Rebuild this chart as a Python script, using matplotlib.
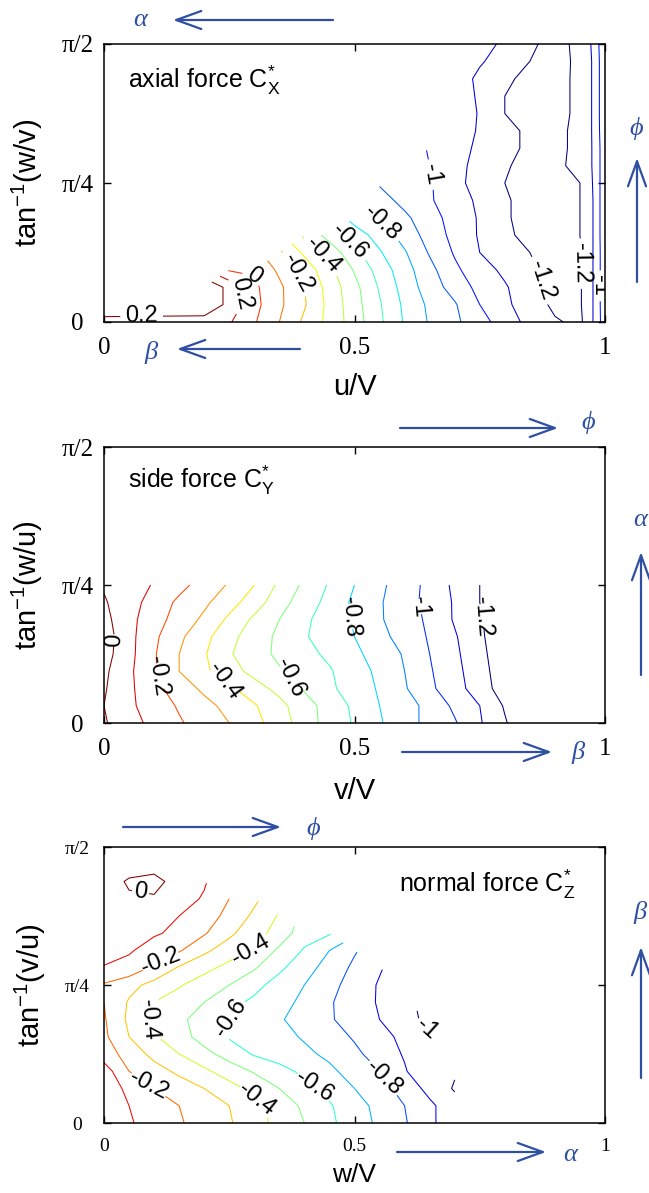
import numpy as np
import matplotlib
matplotlib.use('Agg')
import matplotlib.pyplot as plt
from matplotlib.patches import FancyArrowPatch

n = None

# axial force C_X*, x = u/V, rows = fraction of pi/2, values in hundredths
cx_u = [0.0, 0.2, 0.25, 0.3, 0.35, 0.4, 0.45, 0.5, 0.55, 0.6, 0.65, 0.7, 0.75,
        0.8, 0.85, 0.9, 0.95, 0.97, 0.985, 1.0]
cx_rows = [k / 16 for k in range(17)]
cx_h = [
    [16, 15, 11, 1, -10, -22, -33, -45, -58, -71, -81, -88, -96, -105, -113, -119, -122, -114, -104, -94],
    [29, 29, 17, 3, -8, -19, -33, -46, -59, -72, -82, -89, -100, -108, -115, -122, -121, -114, -104, -93],
    [29, 29, 17, 2, -8, -20, -34, -47, -61, -74, -85, -94, -103, -109, -116, -123, -121, -114, -104, -93],
    [n, n, -1, -1, -12, -24, -37, -51, -64, -76, -87, -98, -106, -112, -118, -124, -121, -114, -104, -93],
    [n, n, n, n, -18, -32, -44, -57, -69, -79, -91, -101, -110, -115, -120, -125, -121, -114, -104, -93],
    [n, n, n, n, n, -42, -54, -65, -74, -84, -94, -103, -111, -118, -123, -124, -120, -114, -104, -92],
    [n, n, n, n, n, n, n, -74, -81, -88, -96, -104, -111, -119, -123, -124, -120, -114, -104, -92],
    [n, n, n, n, n, n, n, n, -86, -93, -99, -105, -112, -119, -123, -124, -120, -114, -104, -92],
    [n, n, n, n, n, n, n, n, -91, -91, -99, -107, -114, -120, -123, -123, -120, -113, -104, -92],
    [n, n, n, n, n, n, n, n, n, -93, -100, -107, -113, -119, -123, -123, -116, -112, -104, -92],
    [n, n, n, n, n, n, n, n, n, n, -101, -106, -112, -117, -122, -123, -117, -112, -104, -92],
    [n, n, n, n, n, n, n, n, n, n, -101, -105, -111, -117, -122, -123, -117, -112, -103, -92],
    [n, n, n, n, n, n, n, n, n, n, -101, -102, -111, -120, -123, -123, -118, -112, -103, -91],
    [n, n, n, n, n, n, n, n, n, n, n, -102, -112, -120, -124, -123, -118, -112, -103, -91],
    [n, n, n, n, n, n, n, n, n, n, n, -105, -112, -118, -123, -123, -118, -112, -103, -91],
    [n, n, n, n, n, n, n, n, n, n, n, -103, -109, -114, -120, -125, -117, -112, -103, -91],
    [n, n, n, n, n, n, n, n, n, n, n, n, -106, -112, -118, -124, -117, -111, -102, -91],
]

# side force C_Y*, x = v/V, rows = fraction of pi/4
cy_v = [k / 20 for k in range(21)]
cy_rows = [k / 8 for k in range(9)]
cy_h = [
    [1, -6, -13, -19, -24, -30, -37, -45, -55, -64, -71, -79, -86, -93, -99, -109, -119, -129, -129, -129, -129],
    [0, -8, -15, -21, -27, -33, -39, -47, -56, -64, -72, -80, -86, -93, -102, -110, -121, -129, -129, -129, -129],
    [1, -8, -17, -25, -32, -38, -46, -53, -61, -68, -75, -81, -89, -98, -106, -115, -125, -129, -129, -129, -129],
    [2, -8, -19, -30, -38, -46, -53, -59, -64, -69, -76, -82, -90, -99, -107, -116, -126, -129, -129, -129, -129],
    [4, -7, -19, -30, -39, -49, -56, -62, -67, -72, -78, -84, -91, -100, -108, -117, -127, -129, -129, -129, -129],
    [5, -7, -18, -28, -37, -47, -55, -62, -69, -75, -80, -87, -94, -101, -109, -118, -128, -129, -129, -129, -129],
    [3, -7, -16, -24, -32, -42, -52, -60, -68, -75, -81, -89, -95, -102, -111, -119, -127, -129, -129, -129, -129],
    [1, -6, -14, -22, -28, -36, -45, -56, -65, -73, -82, -89, -96, -103, -111, -120, -128, -129, -129, -129, -129],
    [-1, -4, -11, -17, -24, -31, -40, -52, -62, -71, -80, -88, -95, -103, -112, -120, -128, -129, -129, -129, -129],
]

# normal force C_Z*, x = w/V, rows = fraction of pi/2
cz_w = [k / 20 for k in range(16)]
cz_rows = [k / 16 for k in range(17)]
cz_h = [
    [-4, -9, -14, -19, -24, -29, -36, -43, -50, -58, -65, -72, -79, -88, -96, n],
    [-5, -10, -15, -20, -25, -30, -37, -44, -52, -59, -66, -73, -80, -88, -96, n],
    [-5, -12, -20, -25, -30, -36, -43, -50, -57, -63, -70, -76, -84, -93, -101, n],
    [-5, -20, -26, -32, -38, -45, -51, -57, -62, -68, -74, -80, -89, -99, -99, n],
    [-15, -24, -33, -40, -47, -54, -61, -64, -68, -72, -78, -84, -91, -97, -99, n],
    [-18, -30, -39, -46, -54, -61, -64, -67, -71, -76, -81, -86, -93, -99, n, n],
    [-19, -32, -42, -48, -54, -60, -64, -69, -74, -79, -84, -90, -96, -103, n, n],
    [-20, -31, -40, -45, -50, -57, -62, -67, -72, -79, -85, -91, -97, n, n, n],
    [-21, -27, -33, -39, -45, -50, -57, -64, -70, -77, -84, -91, -98, n, n, n],
    [-11, -13, -22, -31, -37, -43, -49, -58, -66, -74, -82, -89, n, n, n, n],
    [-4, -9, -14, -19, -28, -35, -41, -52, -61, -70, -79, n, n, n, n, n],
    [-4, -6, -9, -12, -19, -28, -36, -44, -56, -59, n, n, n, n, n, n],
    [-4, -6, -8, -10, -15, -23, -32, -41, n, n, n, n, n, n, n, n],
    [-4, -1, -1, -6, -11, -20, -28, n, n, n, n, n, n, n, n, n],
    [-4, 1, 3, -4, -9, n, n, n, n, n, n, n, n, n, n, n],
    [-4, -4, -4, -4, n, n, n, n, n, n, n, n, n, n, n, n],
    [-4, -4, -4, -4, n, n, n, n, n, n, n, n, n, n, n, n],
]

CX = np.array(cx_h, dtype=float) / 100
CY = np.array(cy_h, dtype=float) / 100
CZ = np.array(cz_h, dtype=float) / 100

W, H = 649, 1193
BLUE = '#2f4fa2'
plt.rcParams['font.family'] = ['Liberation Sans', 'DejaVu Sans']
plt.rcParams['mathtext.fontset'] = 'custom'
plt.rcParams['mathtext.rm'] = 'Liberation Sans'
plt.rcParams['mathtext.it'] = 'Liberation Sans:italic'
serif = ['Liberation Serif', 'DejaVu Serif']

fig = plt.figure(figsize=(6.49, 11.93), dpi=100)

def box(l, t, r, b):
    return [l / W, 1 - b / H, (r - l) / W, (b - t) / H]

def arrow(x0, y0, x1, y1):
    fig.add_artist(FancyArrowPatch((x0 / W, 1 - y0 / H), (x1 / W, 1 - y1 / H),
                                   transform=fig.transFigure, shrinkA=0, shrinkB=0,
                                   arrowstyle='->,head_length=18,head_width=6.5',
                                   mutation_scale=1, lw=1.6, color=BLUE))

def greek(x, y, s):
    fig.text(x / W, 1 - y / H, s, ha='center', va='center', color=BLUE,
             fontsize=19, family=serif, style='italic')

def setup(ax, xlab, ylab, tick_fs, xlab_fs, xlab_top, ylab_x):
    ax.set_xlim(0, 1)
    ax.set_ylim(0, np.pi / 2)
    ax.set_xticks([0, 0.5, 1])
    ax.set_xticklabels(['0', '0.5', '1'], family=serif, fontsize=tick_fs)
    ax.set_yticks([0, np.pi / 4, np.pi / 2])
    ax.set_yticklabels(['0', 'π/4', 'π/2'], family=serif, fontsize=tick_fs)
    for t in ax.get_yticklabels():
        t.set_horizontalalignment('center')
    ax.tick_params(direction='in', top=True, right=True, length=5, width=1)
    ax.tick_params(axis='x', pad=11)
    ax.tick_params(axis='y', pad=19)
    for s in ax.spines.values():
        s.set_linewidth(1.1)
    ax.set_xlabel(xlab, fontsize=xlab_fs)
    ax.set_ylabel(ylab, fontsize=21)
    ax.xaxis.set_label_coords(0.5, xlab_top)
    ax.yaxis.set_label_coords(ylab_x, 0.5)

def draw(ax, x, y, Z, levels, lab_levels, vmin, vmax, pos, fmt):
    # two sets so that clabel only sees the labelled levels
    Zm = np.ma.masked_invalid(Z)
    other = [v for v in levels if v not in lab_levels]
    ax.contour(x, y, Zm, levels=other, cmap='jet', vmin=vmin, vmax=vmax, linewidths=0.75)
    cs = ax.contour(x, y, Zm, levels=lab_levels, cmap='jet', vmin=vmin, vmax=vmax,
                    linewidths=0.75)
    ax.clabel(cs, manual=pos, inline=True, fontsize=17, colors='k', fmt=fmt)

ax1 = fig.add_axes(box(104, 44, 605, 322))
ax2 = fig.add_axes(box(104, 447, 605, 723))
ax3 = fig.add_axes(box(104, 847, 605, 1123))

lev1 = list(np.round(np.arange(-12, 3) / 10, 1))
lab1 = [(0.075, 0.03), (0.272, 0.1), (0.30, 0.18), (0.39, 0.18), (0.44, 0.245),
        (0.49, 0.29), (0.55, 0.35), (0.652, 0.53), (0.872, 0.15), (0.957, 0.21), (0.99, 0.13)]
draw(ax1, cx_u, np.array(cx_rows) * np.pi / 2, CX, lev1,
     [-1.2, -1.0, -0.8, -0.6, -0.4, -0.2, 0.0, 0.1, 0.2], -1.2, 0.2,
     [(x, y * np.pi / 2) for x, y in lab1],
     lambda v: '0.2' if abs(v - 0.1) < 1e-6 else f'{v + 0:g}')

lev2 = list(np.round(np.arange(-12, 1) / 10, 1))
lab2 = [(0.017, 0.6), (0.102, 0.337), (0.236, 0.3), (0.369, 0.325), (0.493, 0.77),
        (0.626, 0.843), (0.759, 0.77)]
draw(ax2, cy_v, np.array(cy_rows) * np.pi / 4, CY, lev2,
     [-1.2, -1.0, -0.8, -0.6, -0.4, -0.2, 0.0], -1.2, 0.0,
     [(x, y * np.pi / 4) for x, y in lab2], lambda v: f'{v + 0:g}')

lev3 = list(np.round(np.arange(-10, 1) / 10, 1))
lab3 = [(0.071, 0.80), (0.114, 0.578), (0.085, 0.12), (0.292, 0.633), (0.085, 0.367),
        (0.304, 0.084), (0.255, 0.373), (0.416, 0.12), (0.552, 0.151), (0.643, 0.337)]
draw(ax3, cz_w, np.array(cz_rows) * np.pi / 2, CZ, lev3,
     [-1.0, -0.8, -0.6, -0.4, -0.2, 0.0], -1.0, 0.0,
     [(x, y * np.pi / 2) for x, y in lab3], lambda v: f'{v + 0:g}')

setup(ax1, 'u/V', 'tan$^{-1}$(w/v)', 18, 21, -0.183, -0.118)
setup(ax2, 'v/V', 'tan$^{-1}$(w/u)', 18, 21, -0.195, -0.118)
setup(ax3, 'w/V', 'tan$^{-1}$(v/u)', 14, 19, -0.145, -0.112)

ax1.text(0.048, 0.842, r'axial force C$_{\mathrm{X}}^{*}$', transform=ax1.transAxes, fontsize=18)
ax2.text(0.048, 0.853, r'side force C$_{\mathrm{Y}}^{*}$', transform=ax2.transAxes, fontsize=18)
ax3.text(0.589, 0.837, r'normal force C$_{\mathrm{Z}}^{*}$', transform=ax3.transAxes, fontsize=18)

arrow(333, 20, 173, 20); greek(140, 20, 'α')
arrow(300, 349, 177, 349); greek(151, 352, 'β')
arrow(637, 282, 637, 158); greek(636, 128, 'ϕ')
arrow(400, 428, 558, 428); greek(588, 423, 'ϕ')
arrow(402, 752, 552, 752); greek(578, 753, 'β')
arrow(641, 675, 641, 552); greek(640, 520, 'α')
arrow(123, 827, 281, 827); greek(313, 829, 'ϕ')
arrow(397, 1152, 546, 1152); greek(570, 1155, 'α')
arrow(641, 1078, 641, 947); greek(640, 912, 'β')

fig.savefig('out.png', dpi=100)
